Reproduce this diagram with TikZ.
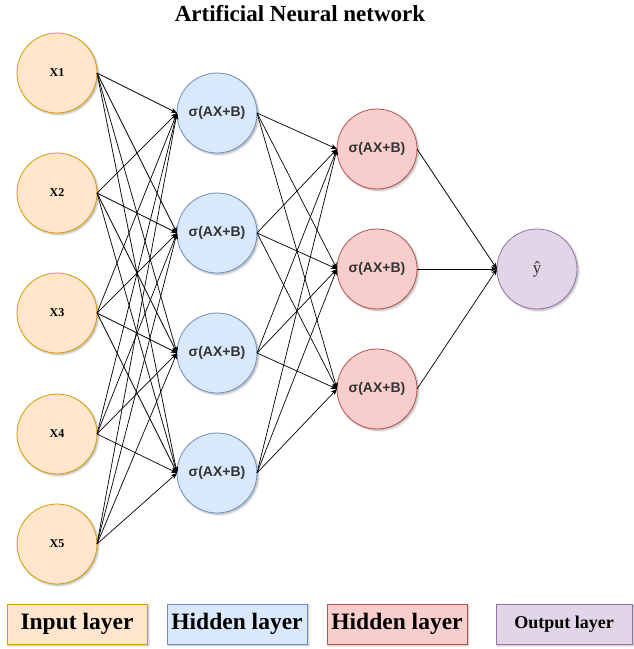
\documentclass[tikz,border=0pt]{standalone}
\usepackage{fontspec}
\setmainfont{Liberation Serif}
\newfontfamily\helvfont{Liberation Sans}
\usetikzlibrary{positioning,arrows.meta,shadows.blur}

\definecolor{inFill}{HTML}{FFE6CC}
\definecolor{inLine}{HTML}{D79B00}
\definecolor{hidAFill}{HTML}{DAE8FC}
\definecolor{hidALine}{HTML}{6C8EBF}
\definecolor{hidBFill}{HTML}{F8CECC}
\definecolor{hidBLine}{HTML}{B85450}
\definecolor{outFill}{HTML}{E1D5E7}
\definecolor{outLine}{HTML}{9673A6}
\definecolor{darktext}{HTML}{333333}

\tikzset{
  shady/.style={blur shadow={shadow xshift=1.5pt, shadow yshift=-1.5pt, shadow blur steps=6, shadow opacity=30}},
  neuron/.style={circle, shady, line width=0.8pt, minimum size=80pt, inner sep=0pt, outer sep=0pt},
  input/.style={neuron, fill=inFill, draw=inLine, font=\bfseries\fontsize{12}{14}\selectfont},
  hidA/.style={neuron, fill=hidAFill, draw=hidALine, text=darktext, font=\helvfont\bfseries\fontsize{14}{16}\selectfont},
  hidB/.style={neuron, fill=hidBFill, draw=hidBLine, text=darktext, font=\helvfont\bfseries\fontsize{14}{16}\selectfont},
  outp/.style={neuron, fill=outFill, draw=outLine, text=darktext, font=\fontsize{17}{19}\selectfont},
  legend/.style={rectangle, shady, line width=0.8pt, minimum width=140pt, minimum height=40pt, inner sep=0pt, outer sep=0pt, font=\bfseries\fontsize{23.5}{26}\selectfont},
  wire/.style={-{Stealth[length=6pt, width=5pt, inset=1.5pt]}, line width=0.7pt},
}

\begin{document}
\begin{tikzpicture}[x=1pt, y=-1pt]
  \useasboundingbox (0,0) rectangle (633,649);

  \node[font=\bfseries\fontsize{23}{26}\selectfont] (title) at (300,14) {Artificial Neural network};

  \node[input]                   (X1) at (57,73) {X1};
  \node[input, below=40pt of X1] (X2) {X2};
  \node[input, below=40pt of X2] (X3) {X3};
  \node[input, below=41pt of X3] (X4) {X4};
  \node[input, below=30pt of X4] (X5) {X5};

  \node[hidA, right=80pt of X1, yshift=-40pt] (H1) {σ(AX+B)};
  \node[hidA, below=40pt of H1] (H2) {σ(AX+B)};
  \node[hidA, below=40pt of H2] (H3) {σ(AX+B)};
  \node[hidA, below=40pt of H3] (H4) {σ(AX+B)};

  \node[hidB, right=80pt of H1, yshift=-36pt] (G1) {σ(AX+B)};
  \node[hidB, below=40pt of G1] (G2) {σ(AX+B)};
  \node[hidB, below=40pt of G2] (G3) {σ(AX+B)};

  \node[outp, right=80pt of G2] (Y) {ŷ};

  \node[legend, fill=inFill, draw=inLine] (L-in) at (77,624) {Input layer};
  \node[legend, fill=hidAFill, draw=hidALine, right=20pt of L-in] (L-hidA) {Hidden layer};
  \node[legend, fill=hidBFill, draw=hidBLine, right=20pt of L-hidA] (L-hidB) {Hidden layer};
  \node[legend, fill=outFill, draw=outLine, minimum width=136pt, font=\bfseries\fontsize{18}{20}\selectfont, right=29pt of L-hidB] (L-out) {Output layer};

  \foreach \i in {1,...,5}
    \foreach \j in {1,...,4}
      \draw[wire] (X\i.east) -- (H\j.west);
  \foreach \i in {1,...,4}
    \foreach \j in {1,...,3}
      \draw[wire] (H\i.east) -- (G\j.west);
  \foreach \i in {1,...,3}
    \draw[wire] (G\i.east) -- (Y.west);
\end{tikzpicture}
\end{document}
